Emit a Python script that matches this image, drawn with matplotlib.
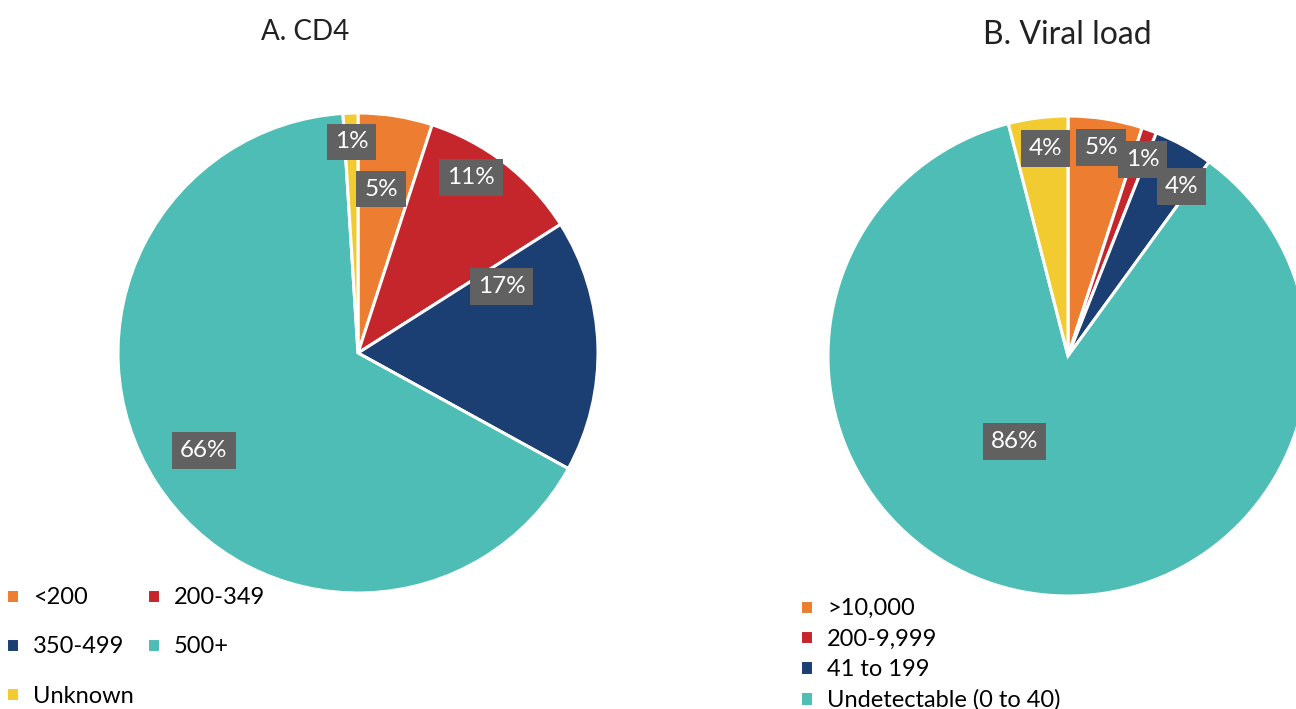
import numpy as np
import matplotlib.pyplot as plt

plt.rcParams["font.family"] = ["Lato", "DejaVu Sans"]

W, H = 1296, 709

cd4_labels = ["<200", "200-349", "350-499", "500+", "Unknown"]
cd4_values = [5, 11, 17, 66, 1]

vl_labels = [">10,000", "200-9,999", "41 to 199", "Undetectable (0 to 40)", "Unknown"]
vl_values = [5, 1, 4, 86, 4]

colors = ["#ED7D31", "#C4262B", "#1B3F73", "#4DBDB5", "#F2CB30"]

# label placement tweaks (radius fraction, clockwise angle shift in degrees)
cd4_label_r = [0.69, 0.87, 0.66, 0.76, 0.88]
cd4_label_shift = [-1, -5, -23, 0, 0]
vl_label_r = [0.88, 0.875, 0.85, 0.42, 0.87]
vl_label_shift = [0, 1, 5, 21, 1]


def px_axes(fig, cx, cy, r):
    return fig.add_axes([(cx - r) / W, (H - cy - r) / H, 2 * r / W, 2 * r / H])


def draw_pie(ax, values, radii, shifts):
    wedges, _ = ax.pie(values, colors=colors, startangle=90, counterclock=False,
                       radius=1, wedgeprops=dict(edgecolor="white", linewidth=2.2))
    ax.set_xlim(-1, 1)
    ax.set_ylim(-1, 1)
    ax.set_aspect("equal")
    for w, v, r, s in zip(wedges, values, radii, shifts):
        mid = np.deg2rad((w.theta1 + w.theta2) / 2 - s)
        ax.text(r * np.cos(mid), r * np.sin(mid), f"{v}%", ha="center", va="center",
                color="white", fontsize=17.5,
                bbox=dict(boxstyle="square,pad=0.32", fc="#616161", ec="none"))
    return wedges


fig = plt.figure(figsize=(W / 100, H / 100), dpi=100)

ax1 = px_axes(fig, 358, 353, 240)
w1 = draw_pie(ax1, cd4_values, cd4_label_r, cd4_label_shift)
ax2 = px_axes(fig, 1068, 356, 240)
w2 = draw_pie(ax2, vl_values, vl_label_r, vl_label_shift)

fig.text(305 / W, 1 - 32 / H, "A. CD4", ha="center", va="center", fontsize=20, color="#222222")
fig.text(1067 / W, 1 - 35 / H, "B. Viral load", ha="center", va="center", fontsize=23,
         color="#222222")

order = [0, 2, 4, 1, 3]
fig.legend([w1[i] for i in order], [cd4_labels[i] for i in order], ncol=2,
           loc="upper left", bbox_to_anchor=(6 / W, 1 - 587 / H), frameon=False,
           fontsize=17, handlelength=0.55, handleheight=0.55, handletextpad=0.6,
           labelspacing=1.2, columnspacing=0.55, borderpad=0, borderaxespad=0)

# the reference only shows the first four entries of this legend
fig.legend(w2[:4], vl_labels[:4], loc="upper left", bbox_to_anchor=(800 / W, 1 - 598 / H),
           frameon=False, fontsize=17, handlelength=0.55, handleheight=0.55,
           handletextpad=0.6, labelspacing=0.4, borderpad=0, borderaxespad=0)

fig.savefig("out.png", dpi=100)
